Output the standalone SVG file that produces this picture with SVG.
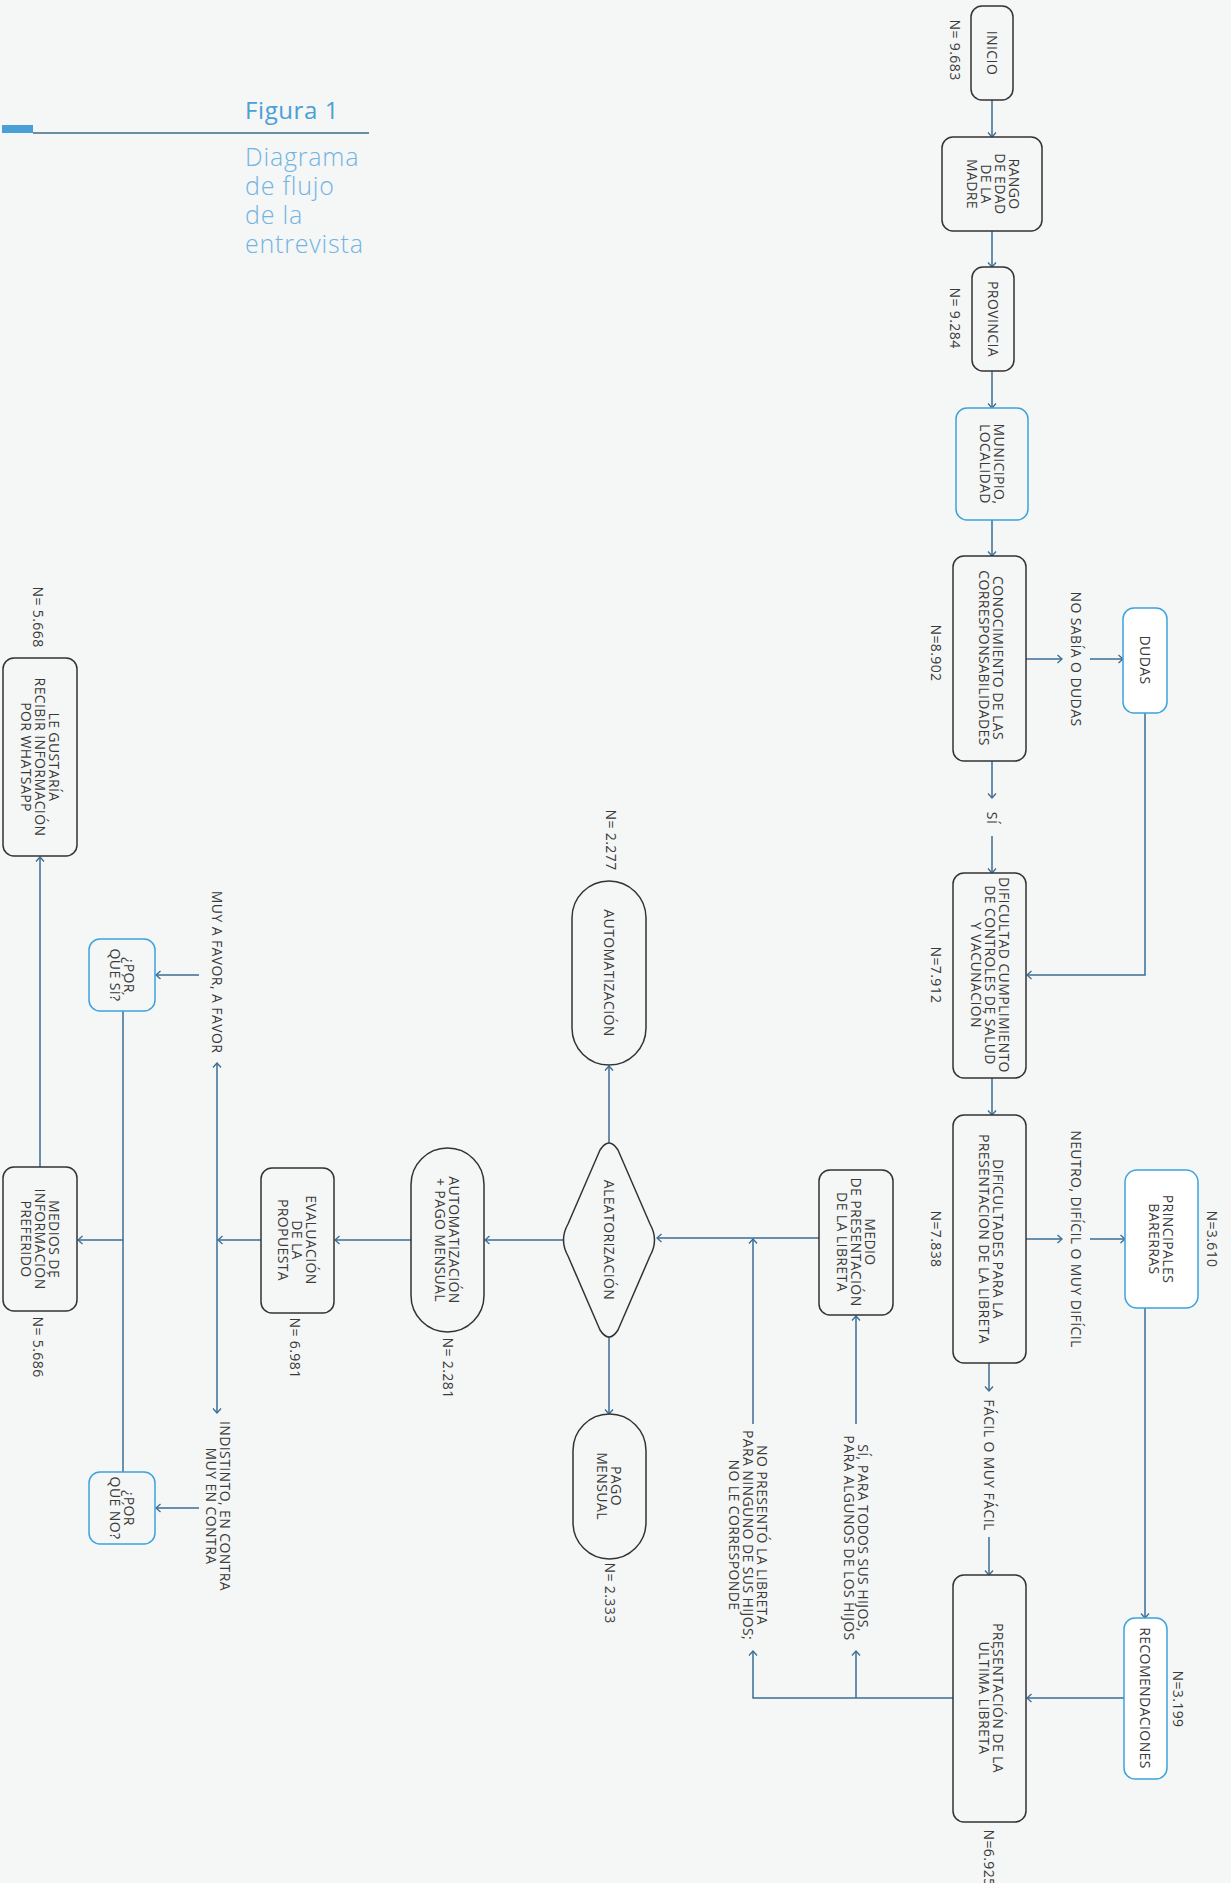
<svg xmlns="http://www.w3.org/2000/svg" width="1231" height="1883" viewBox="0 0 1231 1883">
<style>
.bg{fill:#f5f6f6}
.box{fill:#f5f6f6;stroke:#333;stroke-width:1.5}
.bbox{fill:#f5f6f6;stroke:#3ea3dd;stroke-width:1.5}
.wbox{fill:#ffffff;stroke:#3ea3dd;stroke-width:1.5}
.t{font-family:"Open Sans","Liberation Sans",sans-serif;font-size:14px;letter-spacing:0.4px;fill:#3a3a3a;text-anchor:middle}
.c path{fill:none;stroke:#3a6d93;stroke-width:1.5}
.ttl{font-family:"Open Sans","Liberation Sans",sans-serif;font-size:24px;letter-spacing:0.6px;fill:#4a9fd9}
.sub{font-family:"Open Sans","Liberation Sans",sans-serif;font-size:25px;letter-spacing:0.8px;font-weight:300;fill:#72b4e2}
</style>
<defs>
<marker id="ah" viewBox="-6 -5 7 10" refX="0" refY="0" markerWidth="7" markerHeight="10" markerUnits="userSpaceOnUse" orient="auto">
<path d="M-4.5,-4 L0,0 L-4.5,4" fill="none" stroke="#3a6d93" stroke-width="1.3"/>
</marker>
</defs>
<rect class="bg" x="0" y="0" width="1231" height="1883"/>

<g id="title">
<text class="ttl" x="245" y="119">Figura 1</text>
<rect x="2" y="125" width="31" height="8" fill="#4a9fd9"/>
<path d="M33,133 H369" stroke="#3f6b86" stroke-width="1.5" fill="none"/>
<text class="sub"><tspan x="245" y="166">Diagrama</tspan><tspan x="245" dy="29">de flujo</tspan><tspan x="245" dy="29">de la</tspan><tspan x="245" dy="29">entrevista</tspan></text>
</g>

<g id="connectors" class="c">
<path d="M992,100 V137" marker-end="url(#ah)"/>
<path d="M992,231 V267" marker-end="url(#ah)"/>
<path d="M992,371 V408" marker-end="url(#ah)"/>
<path d="M992,520 V556" marker-end="url(#ah)"/>
<path d="M1026,659 H1062" marker-end="url(#ah)"/>
<path d="M1090,659 H1123" marker-end="url(#ah)"/>
<path d="M1145,713 V975 H1027" marker-end="url(#ah)"/>
<path d="M992,761 V798" marker-end="url(#ah)"/>
<path d="M992,836 V873" marker-end="url(#ah)"/>
<path d="M992,1078 V1115" marker-end="url(#ah)"/>
<path d="M1026,1239 H1062" marker-end="url(#ah)"/>
<path d="M1090,1239 H1125" marker-end="url(#ah)"/>
<path d="M1145,1308 V1618" marker-end="url(#ah)"/>
<path d="M1124,1698 H1027" marker-end="url(#ah)"/>
<path d="M989,1363 V1391" marker-end="url(#ah)"/>
<path d="M989,1537 V1575" marker-end="url(#ah)"/>
<path d="M953,1698 H753 V1651" marker-end="url(#ah)"/>
<path d="M856,1698 V1651" marker-end="url(#ah)"/>
<path d="M856,1424 V1316" marker-end="url(#ah)"/>
<path d="M753,1424 V1239" marker-end="url(#ah)"/>
<path d="M819,1238 H657" marker-end="url(#ah)"/>
<path d="M609,1143 V1066" marker-end="url(#ah)"/>
<path d="M609,1337 V1414" marker-end="url(#ah)"/>
<path d="M563,1240 H485" marker-end="url(#ah)"/>
<path d="M411,1240 H335" marker-end="url(#ah)"/>
<path d="M261,1240 H218" marker-end="url(#ah)"/>
<path d="M217,1240 V1063" marker-end="url(#ah)"/>
<path d="M217,1240 V1413" marker-end="url(#ah)"/>
<path d="M199,975 H156" marker-end="url(#ah)"/>
<path d="M199,1508 H156" marker-end="url(#ah)"/>
<path d="M123,1011 V1472"/>
<path d="M123,1240 H78" marker-end="url(#ah)"/>
<path d="M40,1167 V857" marker-end="url(#ah)"/>
</g>

<g id="edge-labels">
<text class="t" transform="translate(1076,659) rotate(90)" y="5">NO SABÍA O DUDAS</text>
<text class="t" transform="translate(992,818) rotate(90)" y="5">SÍ</text>
<text class="t" transform="translate(1076,1239) rotate(90)" y="5">NEUTRO, DIFÍCIL O MUY DIFÍCIL</text>
<text class="t" transform="translate(989,1465) rotate(90)" y="5">FÁCIL O MUY FÁCIL</text>
<text class="t" transform="translate(856,1538) rotate(90)"><tspan x="0" y="-2">SÍ, PARA TODOS SUS HIJOS,</tspan><tspan x="0" dy="14">PARA ALGUNOS DE LOS HIJOS</tspan></text>
<text class="t" transform="translate(748,1535) rotate(90)"><tspan x="0" y="-9">NO PRESENTÓ LA LIBRETA</tspan><tspan x="0" dy="14">PARA NINGUNO DE SUS HIJOS;</tspan><tspan x="0" dy="14">NO LE CORRESPONDE</tspan></text>
<text class="t" transform="translate(217,972) rotate(90)" y="5">MUY A FAVOR, A FAVOR</text>
<text class="t" transform="translate(218,1506) rotate(90)"><tspan x="0" y="-2">INDISTINTO, EN CONTRA</tspan><tspan x="0" dy="14">MUY EN CONTRA</tspan></text>
</g>

<g id="counts">
<text class="t" transform="translate(955,50) rotate(90)" y="5">N= 9.683</text>
<text class="t" transform="translate(955,318) rotate(90)" y="5">N= 9.284</text>
<text class="t" transform="translate(936,653) rotate(90)" y="5">N=8.902</text>
<text class="t" transform="translate(936,975) rotate(90)" y="5">N=7.912</text>
<text class="t" transform="translate(936,1239) rotate(90)" y="5">N=7.838</text>
<text class="t" transform="translate(1212,1239) rotate(90)" y="5">N=3.610</text>
<text class="t" transform="translate(1178,1699) rotate(90)" y="5">N=3.199</text>
<text class="t" transform="translate(989,1858) rotate(90)" y="5">N=6.925</text>
<text class="t" transform="translate(611,840) rotate(90)" y="5">N= 2.277</text>
<text class="t" transform="translate(610,1593) rotate(90)" y="5">N= 2.333</text>
<text class="t" transform="translate(448,1368) rotate(90)" y="5">N= 2.281</text>
<text class="t" transform="translate(295,1348) rotate(90)" y="5">N= 6.981</text>
<text class="t" transform="translate(38,1347) rotate(90)" y="5">N= 5.686</text>
<text class="t" transform="translate(38,617) rotate(90)" y="5">N= 5.668</text>
</g>

<g id="n-inicio"><rect class="box" x="971" y="6" width="42" height="94" rx="11"/>
<text class="t" transform="translate(992,53) rotate(90)" y="5">INICIO</text></g>

<g id="n-rango"><rect class="box" x="942" y="137" width="100" height="94" rx="11"/>
<text class="t" transform="translate(993,184) rotate(90)"><tspan x="0" y="-16">RANGO</tspan><tspan x="0" dy="14">DE EDAD</tspan><tspan x="0" dy="14">DE LA</tspan><tspan x="0" dy="14">MADRE</tspan></text></g>

<g id="n-provincia"><rect class="box" x="972" y="267" width="42" height="104" rx="11"/>
<text class="t" transform="translate(993,319) rotate(90)" y="5">PROVINCIA</text></g>

<g id="n-municipio"><rect class="bbox" x="956" y="408" width="72" height="112" rx="11"/>
<text class="t" transform="translate(992,464) rotate(90)"><tspan x="0" y="-2">MUNICIPIO,</tspan><tspan x="0" dy="14">LOCALIDAD</tspan></text></g>

<g id="n-conocimiento"><rect class="box" x="953" y="556" width="73" height="205" rx="11"/>
<text class="t" transform="translate(991,658) rotate(90)"><tspan x="0" y="-2">CONOCIMIENTO DE LAS</tspan><tspan x="0" dy="14">CORRESPONSABILIDADES</tspan></text></g>

<g id="n-dudas"><rect class="wbox" x="1123" y="608" width="44" height="105" rx="11"/>
<text class="t" transform="translate(1145,660) rotate(90)" y="5">DUDAS</text></g>

<g id="n-dificultad"><rect class="box" x="953" y="873" width="73" height="205" rx="11"/>
<text class="t" transform="translate(990,975) rotate(90)"><tspan x="0" y="-9">DIFICULTAD CUMPLIMIENTO</tspan><tspan x="0" dy="14">DE CONTROLES DE SALUD</tspan><tspan x="0" dy="14">Y VACUNACIÓN</tspan></text></g>

<g id="n-dificultades"><rect class="box" x="953" y="1115" width="73" height="248" rx="11"/>
<text class="t" transform="translate(991,1239) rotate(90)"><tspan x="0" y="-2">DIFICULTADES PARA LA</tspan><tspan x="0" dy="14">PRESENTACION DE LA LIBRETA</tspan></text></g>

<g id="n-barreras"><rect class="wbox" x="1125" y="1170" width="73" height="138" rx="12"/>
<text class="t" transform="translate(1161,1239) rotate(90)"><tspan x="0" y="-2">PRINCIPALES</tspan><tspan x="0" dy="14">BARERRAS</tspan></text></g>

<g id="n-recomendaciones"><rect class="wbox" x="1124" y="1618" width="43" height="161" rx="11"/>
<text class="t" transform="translate(1145,1698) rotate(90)" y="5">RECOMENDACIONES</text></g>

<g id="n-presentacion"><rect class="box" x="953" y="1575" width="73" height="247" rx="11"/>
<text class="t" transform="translate(991,1698) rotate(90)"><tspan x="0" y="-2">PRESENTACIÓN DE LA</tspan><tspan x="0" dy="14">ÚLTIMA LIBRETA</tspan></text></g>

<g id="n-medio"><rect class="box" x="819" y="1170" width="74" height="145" rx="11"/>
<text class="t" transform="translate(856,1242) rotate(90)"><tspan x="0" y="-9">MEDIO</tspan><tspan x="0" dy="14">DE PRESENTACIÓN</tspan><tspan x="0" dy="14">DE LA LIBRETA</tspan></text></g>

<g id="n-aleatorizacion"><path class="box" d="M600,1150 Q609,1136 618,1150 L650,1224 Q659,1240 650,1256 L618,1330 Q609,1344 600,1330 L568,1256 Q559,1240 568,1224 Z"/>
<text class="t" transform="translate(609,1240) rotate(90)" y="5">ALEATORIZACIÓN</text></g>

<g id="n-automatizacion"><rect class="box" x="572" y="881" width="74" height="184" rx="37"/>
<text class="t" transform="translate(609,973) rotate(90)" y="5">AUTOMATIZACIÓN</text></g>

<g id="n-pago"><rect class="box" x="573" y="1414" width="73" height="145" rx="36.5"/>
<text class="t" transform="translate(609,1486) rotate(90)"><tspan x="0" y="-2">PAGO</tspan><tspan x="0" dy="14">MENSUAL</tspan></text></g>

<g id="n-autopago"><rect class="box" x="411" y="1148" width="73" height="184" rx="36.5"/>
<text class="t" transform="translate(447,1240) rotate(90)"><tspan x="0" y="-2">AUTOMATIZACIÓN</tspan><tspan x="0" dy="14">+ PAGO MENSUAL</tspan></text></g>

<g id="n-evaluacion"><rect class="box" x="261" y="1168" width="73" height="145" rx="11"/>
<text class="t" transform="translate(297,1240) rotate(90)"><tspan x="0" y="-9">EVALUACIÓN</tspan><tspan x="0" dy="14">DE LA</tspan><tspan x="0" dy="14">PROPUESTA</tspan></text></g>

<g id="n-porquesi"><rect class="bbox" x="89" y="939" width="66" height="72" rx="11"/>
<text class="t" transform="translate(122,975) rotate(90)"><tspan x="0" y="-2">¿POR</tspan><tspan x="0" dy="14">QUÉ SÍ?</tspan></text></g>

<g id="n-porqueno"><rect class="bbox" x="89" y="1472" width="66" height="72" rx="11"/>
<text class="t" transform="translate(122,1508) rotate(90)"><tspan x="0" y="-2">¿POR</tspan><tspan x="0" dy="14">QUÉ NO?</tspan></text></g>

<g id="n-medios"><rect class="box" x="3" y="1167" width="74" height="144" rx="11"/>
<text class="t" transform="translate(40,1239) rotate(90)"><tspan x="0" y="-9">MEDIOS DE</tspan><tspan x="0" dy="14">INFORMACIÓN</tspan><tspan x="0" dy="14">PREFERIDO</tspan></text></g>

<g id="n-whatsapp"><rect class="box" x="3" y="658" width="74" height="198" rx="11"/>
<text class="t" transform="translate(40,757) rotate(90)"><tspan x="0" y="-9">LE GUSTARÍA</tspan><tspan x="0" dy="14">RECIBIR INFORMACIÓN</tspan><tspan x="0" dy="14">POR WHATSAPP</tspan></text></g>
</svg>
